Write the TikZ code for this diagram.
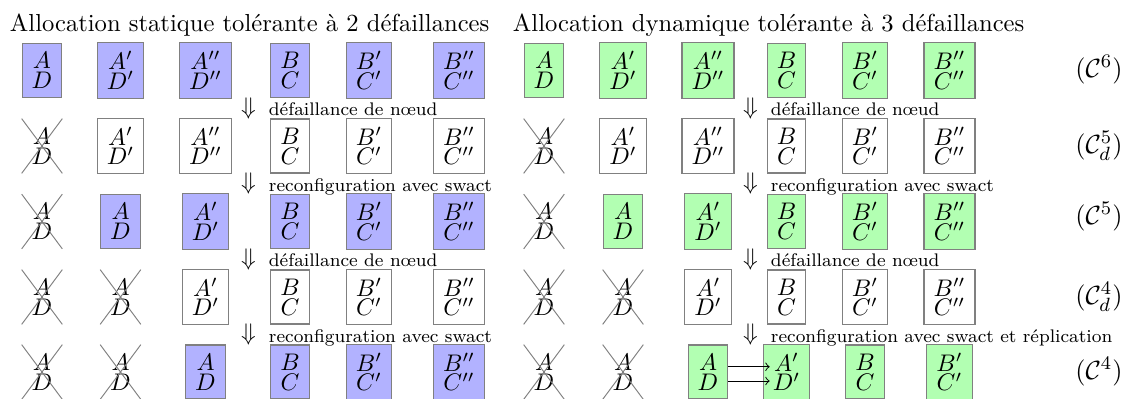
\documentclass[tikz,border=0pt]{standalone}
\usepackage{fontspec}
\usetikzlibrary{shapes.misc,calc}
\newcommand\twoline[2]{$#1$\\[-3.8pt]$#2$}
\begin{document}
\begin{tikzpicture}[x=0.41667pt,y=-0.41667pt,
  box/.style={draw=gray, line width=0.5pt, inner xsep=4pt, inner ysep=3.7pt, align=center, font=\normalsize},
  sbox/.style={box, fill=blue!30},
  gbox/.style={box, fill=green!30},
  wbox/.style={box, fill=white},
  dead/.style={cross out, draw=gray, line width=0.4pt, inner xsep=4pt, inner ysep=3.7pt, align=center, font=\normalsize},
  darr/.style={inner sep=3.33pt},
  lbl/.style={anchor=base west, inner sep=0pt, font=\fontsize{7.6}{9}\selectfont},
  cfg/.style={anchor=base east, inner sep=0pt, font=\fontsize{11}{13}\selectfont},
  ttl/.style={anchor=base west, inner sep=0pt, font=\fontsize{10.25}{12}\selectfont}]
\useasboundingbox (0,0) rectangle (1125,398);
% titles
\node[ttl] (t1) at (9.5,31.5) {Allocation statique tolérante à 2 défaillances};
\node[ttl] (t2) at (512.5,31.5) {Allocation dynamique tolérante à 3 défaillances};
% ---------- left side ----------
% row 1
\node[sbox] (L11) at (42,70.5) {\twoline{A}{D}};
\node[sbox] (L12) at (120.5,70.5) {\twoline{A'}{D'}};
\node[sbox] (L13) at (205.5,70.5) {\twoline{A''}{D''}};
\node[sbox] (L14) at (290,70.5) {\twoline{B}{C}};
\node[sbox] (L15) at (369,70.5) {\twoline{B'}{C'}};
\node[sbox] (L16) at (459,70.5) {\twoline{B''}{C''}};
% row 2
\node[dead] (L21) at (42,146) {\twoline{A}{D}};
\node[wbox] (L22) at (120.5,146) {\twoline{A'}{D'}};
\node[wbox] (L23) at (205.5,146) {\twoline{A''}{D''}};
\node[wbox] (L24) at (290,146) {\twoline{B}{C}};
\node[wbox] (L25) at (369,146) {\twoline{B'}{C'}};
\node[wbox] (L26) at (459,146) {\twoline{B''}{C''}};
% row 3
\node[dead] (L31) at (42,221.5) {\twoline{A}{D}};
\node[sbox] (L32) at (120.5,221.5) {\twoline{A}{D}};
\node[sbox] (L33) at (205.5,221.5) {\twoline{A'}{D'}};
\node[sbox] (L34) at (290,221.5) {\twoline{B}{C}};
\node[sbox] (L35) at (369,221.5) {\twoline{B'}{C'}};
\node[sbox] (L36) at (459,221.5) {\twoline{B''}{C''}};
% row 4
\node[dead] (L41) at (42,297) {\twoline{A}{D}};
\node[dead] (L42) at (120.5,297) {\twoline{A}{D}};
\node[wbox] (L43) at (205.5,297) {\twoline{A'}{D'}};
\node[wbox] (L44) at (290,297) {\twoline{B}{C}};
\node[wbox] (L45) at (369,297) {\twoline{B'}{C'}};
\node[wbox] (L46) at (459,297) {\twoline{B''}{C''}};
% row 5
\node[dead] (L51) at (42,372) {\twoline{A}{D}};
\node[dead] (L52) at (120.5,372) {\twoline{A}{D}};
\node[sbox] (L53) at (205.5,372) {\twoline{A}{D}};
\node[sbox] (L54) at (290,372) {\twoline{B}{C}};
\node[sbox] (L55) at (369,372) {\twoline{B'}{C'}};
\node[sbox] (L56) at (459,372) {\twoline{B''}{C''}};
% transitions left
\node[darr] (dl1) at (248.5,108.25) {$\Downarrow$};
\node[darr] (dl2) at (248.5,183.75) {$\Downarrow$};
\node[darr] (dl3) at (248.5,259.25) {$\Downarrow$};
\node[darr] (dl4) at (248.5,334.5) {$\Downarrow$};
\node[lbl] (tl1) at ($(dl1.center)+(20,7.5)$) {défaillance de nœud};
\node[lbl] (tl2) at ($(dl2.center)+(20,7.5)$) {reconfiguration avec swact};
\node[lbl] (tl3) at ($(dl3.center)+(20,7.5)$) {défaillance de nœud};
\node[lbl] (tl4) at ($(dl4.center)+(20,7.5)$) {reconfiguration avec swact};
% ---------- right side ----------
% row 1
\node[gbox] (R11) at (544,70.5) {\twoline{A}{D}};
\node[gbox] (R12) at (623,70.5) {\twoline{A'}{D'}};
\node[gbox] (R13) at (708,70.5) {\twoline{A''}{D''}};
\node[gbox] (R14) at (786.5,70.5) {\twoline{B}{C}};
\node[gbox] (R15) at (865,70.5) {\twoline{B'}{C'}};
\node[gbox] (R16) at (949.5,70.5) {\twoline{B''}{C''}};
% row 2
\node[dead] (R21) at (544,146) {\twoline{A}{D}};
\node[wbox] (R22) at (623,146) {\twoline{A'}{D'}};
\node[wbox] (R23) at (708,146) {\twoline{A''}{D''}};
\node[wbox] (R24) at (786.5,146) {\twoline{B}{C}};
\node[wbox] (R25) at (865,146) {\twoline{B'}{C'}};
\node[wbox] (R26) at (949.5,146) {\twoline{B''}{C''}};
% row 3
\node[dead] (R31) at (544,221.5) {\twoline{A}{D}};
\node[gbox] (R32) at (623,221.5) {\twoline{A}{D}};
\node[gbox] (R33) at (708,221.5) {\twoline{A'}{D'}};
\node[gbox] (R34) at (786.5,221.5) {\twoline{B}{C}};
\node[gbox] (R35) at (865,221.5) {\twoline{B'}{C'}};
\node[gbox] (R36) at (949.5,221.5) {\twoline{B''}{C''}};
% row 4
\node[dead] (R41) at (544,297) {\twoline{A}{D}};
\node[dead] (R42) at (623,297) {\twoline{A}{D}};
\node[wbox] (R43) at (708,297) {\twoline{A'}{D'}};
\node[wbox] (R44) at (786.5,297) {\twoline{B}{C}};
\node[wbox] (R45) at (865,297) {\twoline{B'}{C'}};
\node[wbox] (R46) at (949.5,297) {\twoline{B''}{C''}};
% row 5
\node[dead] (R51) at (544,372) {\twoline{A}{D}};
\node[dead] (R52) at (623,372) {\twoline{A}{D}};
\node[gbox] (R53) at (708,372) {\twoline{A}{D}};
\node[gbox] (R54) at (786.5,372) {\twoline{A'}{D'}};
\node[gbox] (R55) at (865,372) {\twoline{B}{C}};
\node[gbox] (R56) at (949.5,372) {\twoline{B'}{C'}};
% replication arrows
\coordinate (ra1) at ($(R53.east)+(0,-5.3)$);
\coordinate (rb1) at ($(R54.west)+(7,-5.3)$);
\coordinate (ra2) at ($(R53.east)+(0,9)$);
\coordinate (rb2) at ($(R54.west)+(7,9)$);
\draw[->, line width=0.4pt] (ra1) -- (rb1);
\draw[->, line width=0.4pt] (ra2) -- (rb2);
% transitions right
\node[darr] (dr1) at (750.5,108.25) {$\Downarrow$};
\node[darr] (dr2) at (750.5,183.75) {$\Downarrow$};
\node[darr] (dr3) at (750.5,259.25) {$\Downarrow$};
\node[darr] (dr4) at (750.5,334.5) {$\Downarrow$};
\node[lbl] (tr1) at ($(dr1.center)+(20,7.5)$) {défaillance de nœud};
\node[lbl] (tr2) at ($(dr2.center)+(20,7.5)$) {reconfiguration avec swact};
\node[lbl] (tr3) at ($(dr3.center)+(20,7.5)$) {défaillance de nœud};
\node[lbl] (tr4) at ($(dr4.center)+(20,7.5)$) {reconfiguration avec swact et réplication};
% configuration labels
\node[cfg] (c1) at (1123,77.5) {$(\mathcal{C}^6)$};
\node[cfg] (c2) at (1123,153) {$(\mathcal{C}^5_d)$};
\node[cfg] (c3) at (1123,224) {$(\mathcal{C}^5)$};
\node[cfg] (c4) at (1123,304) {$(\mathcal{C}^4_d)$};
\node[cfg] (c5) at (1123,379) {$(\mathcal{C}^4)$};
\end{tikzpicture}
\end{document}
